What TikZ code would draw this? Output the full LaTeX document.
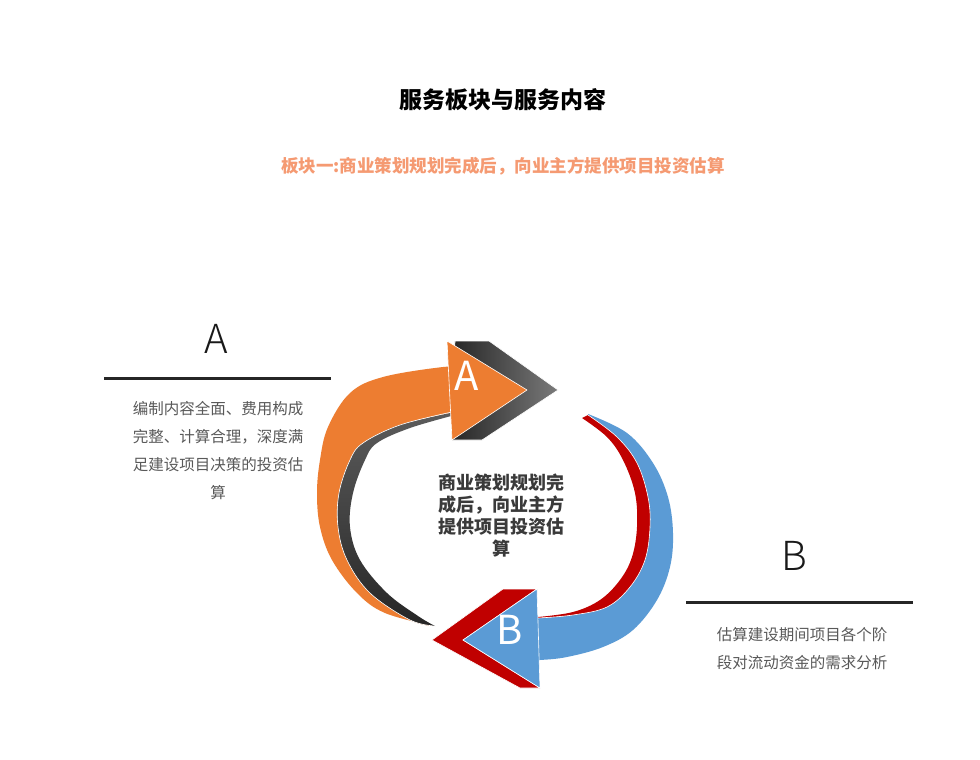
\documentclass[tikz,border=0pt]{standalone}
\usepackage{fontspec}
\newfontfamily\cjk{Noto Sans CJK SC}
\newfontfamily\cjklight{Noto Sans CJK SC Light}
\definecolor{orA}{HTML}{ED7D31}
\definecolor{blB}{HTML}{5B9BD5}
\definecolor{rdB}{HTML}{C00000}
\definecolor{dkA}{HTML}{262626}
\definecolor{dkB}{HTML}{7A7A7A}
\definecolor{dkC}{HTML}{5C5C5C}
\definecolor{subc}{HTML}{F59A72}
\definecolor{txtg}{HTML}{595959}
\definecolor{ctrc}{HTML}{3A3A3A}
\tikzset{
  edge/.style={draw=white, line width=0.6pt, line join=round},
  sidelabel/.style={font=\cjklight\fontsize{40}{44}\selectfont, text=black!90, inner sep=0pt},
  headlabel/.style={font=\cjk\fontsize{40}{44}\selectfont, text=white, inner sep=0pt},
  desc/.style={font=\cjk\fontsize{15.5}{28}\selectfont, text=txtg, align=center, inner sep=0pt},
  rule/.style={line width=3pt, black!85},
}
\begin{document}
\begin{tikzpicture}[x=1pt,y=-1pt]
\useasboundingbox[fill=white] (0,0) rectangle (980,760);

% titles
\node[font=\cjk\fontsize{23}{26}\selectfont\bfseries, inner sep=0pt] (title) at (503,100) {服务板块与服务内容};
\node[font=\cjk\fontsize{17.5}{20}\selectfont\bfseries, text=subc, inner sep=0pt] (sub) at (503,166) {板块一:商业策划规划完成后，向业主方提供项目投资估算};

% ---------- Arrow A ----------
% dark chevron behind head
\shade[left color=dkA, right color=dkB, edge]
  (455,341) -- (489,341) -- (558,390) -- (482,440) -- (452,440) -- cycle;
% orange band
\fill[orA]
  plot[smooth, tension=0.6] coordinates {(470,367) (443,367) (383,377) (350,393) (328,427) (320,460) (317,493) (320,527) (332,560) (357,593) (385,613) (433,626)}
  -- plot[smooth, tension=0.6] coordinates {(433,626) (410,620) (370,593) (347,560) (338,527) (339,493) (350,460) (363,443) (400,425) (455,412) (470,412)}
  -- cycle;
% dark crescent
\shade[top color=dkC, bottom color=dkA]
  plot[smooth, tension=0.6] coordinates {(455,412) (400,425) (363,443) (350,460) (339,493) (338,527) (347,560) (370,593) (410,620) (435,626)}
  -- plot[smooth, tension=0.6] coordinates {(435,626) (418,616) (387,593) (360,560) (350,527) (353,493) (365,460) (377,443) (410,428) (455,415)}
  -- cycle;
\draw[white, line width=0.6pt]
  plot[smooth, tension=0.6] coordinates {(452,412) (400,425) (363,443) (350,460) (339,493) (338,527) (347,560) (370,593) (410,620) (435,626)};
% orange head
\fill[orA, edge] (447,341) -- (527,390) -- (452,440) -- cycle;
\node[headlabel] (ha) at (467,376) {A};

% ---------- Arrow B ----------
% red chevron
\fill[rdB, edge]
  (503,589) -- (537,589) -- (463,640) -- (540,688) -- (520,688) -- (432,640) -- cycle;
% blue band
\fill[blB]
  plot[smooth, tension=0.6] coordinates {(588,414) (627,433) (653,463) (668,497) (673,533) (670,567) (657,600) (633,630) (603,647) (567,657) (540,660) (525,660)}
  -- (525,618)
  -- plot[smooth, tension=0.6] coordinates {(525,618) (540,618) (573,615) (607,607) (630,587) (645,560) (650,527) (648,497) (637,463) (617,437) (588,415)}
  -- cycle;
% red crescent
\fill[rdB]
  plot[smooth, tension=0.6] coordinates {(582,418) (607,437) (623,460) (635,493) (637,527) (632,557) (620,580) (600,600) (573,612) (538,617)}
  -- plot[smooth, tension=0.6] coordinates {(538,618) (573,615) (607,607) (630,587) (645,560) (650,527) (648,497) (637,463) (617,437) (588,415)}
  -- cycle;
\draw[white, line width=0.6pt]
  plot[smooth, tension=0.6] coordinates {(538,618) (573,615) (607,607) (630,587) (645,560) (650,527) (648,497) (637,463) (617,437) (588,415)};
% blue head
\fill[blB, edge] (537,589) -- (463,640) -- (540,688) -- cycle;
\node[headlabel] (hb) at (510,630) {B};

% centre text
\node[font=\cjk\fontsize{18}{22.3}\selectfont\bfseries, text=ctrc, align=center, inner sep=0pt] (ctr) at (501.5,515.5)
  {商业策划规划完\\成后，向业主方\\提供项目投资估\\算};

% ---------- side A ----------
\node[sidelabel] (la) at (216,339) {A};
\coordinate (a1) at (104,378);
\coordinate (a2) at (331,378);
\draw[rule] (a1) -- (a2);
\node[desc, anchor=north] (da) at (218,401)
  {编制内容全面、费用构成\\完整、计算合理，深度满\\足建设项目决策的投资估\\算};

% ---------- side B ----------
\node[sidelabel] (lb) at (794,556) {B};
\coordinate (b1) at (686,602);
\coordinate (b2) at (913,602);
\draw[rule] (b1) -- (b2);
\node[desc, anchor=north] (db) at (802,627)
  {估算建设期间项目各个阶\\段对流动资金的需求分析};
\end{tikzpicture}
\end{document}
